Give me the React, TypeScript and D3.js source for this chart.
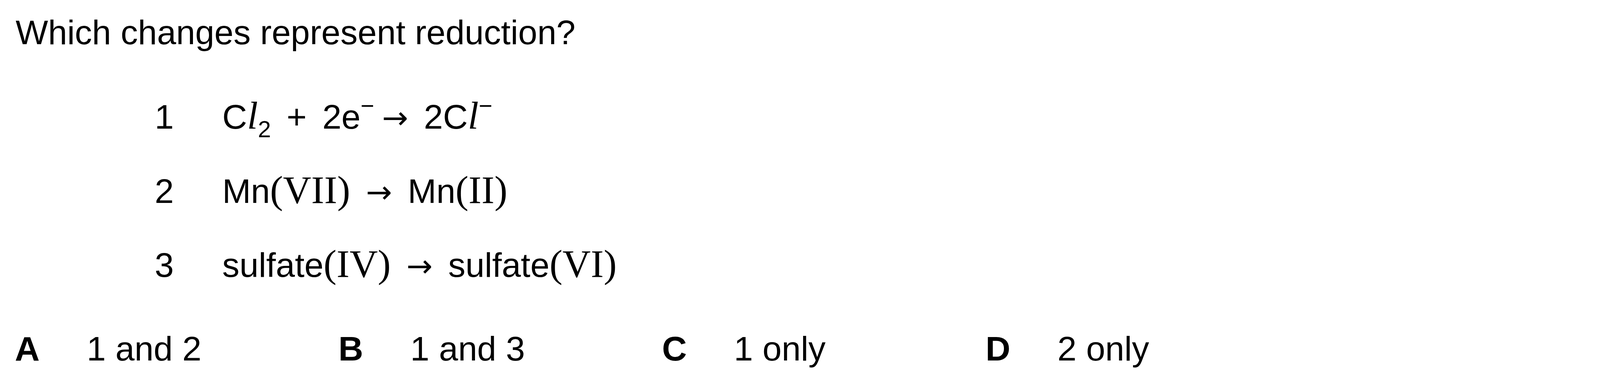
import * as d3 from "d3";

const question = "Which changes represent reduction?";
const itemNumbers = ["1", "2", "3"];
const optionLetters = ["A", "B", "C", "D"];
const optionTexts = ["1 and 2", "1 and 3", "1 only", "2 only"];

const W = 4100;
const H = 977;
const sans = "Liberation Sans, Arial, sans-serif";
const serif = "Liberation Serif, Times New Roman, serif";
const FS = 88;
const SFS = 100;

const rowY = d3.scalePoint<string>().domain(itemNumbers).range([329, 708]);
const optX = d3.scalePoint<string>().domain(optionLetters).range([38, 2523]);

const Arrow = () => (
  <tspan fontFamily="DejaVu Sans, sans-serif" fontSize={80} dx="40">→</tspan>
);

export default function App() {
  return (
    <svg width={W} height={H} style={{ position: "absolute", left: 0, top: 0, background: "#fff" }}>
      <g fontFamily={sans} fontSize={FS} fill="#000" style={{ whiteSpace: "pre" }}>
        <text x={40} y={113}>{question}</text>
        {itemNumbers.map((n) => (
          <text key={n} x={396} y={rowY(n)}>{n}</text>
        ))}
        <text x={569} y={rowY("1")}>
          C<tspan fontFamily={serif} fontStyle="italic" fontSize={SFS}>l</tspan>
          <tspan fontSize={60} dy="22">2</tspan>
          <tspan dy="-22" dx="40">+</tspan>
          <tspan dx="40">2e</tspan>
          <tspan fontSize={60} dy="-38">−</tspan>
          <tspan dy="38" fontFamily="DejaVu Sans, sans-serif" fontSize={80} dx="20">→</tspan>
          <tspan dx="40">2C</tspan>
          <tspan fontFamily={serif} fontStyle="italic" fontSize={SFS}>l</tspan>
          <tspan fontSize={60} dy="-38">−</tspan>
        </text>
        <text x={569} y={rowY("2")}>
          Mn<tspan fontFamily={serif} fontSize={SFS}>(VII)</tspan>
          <Arrow />
          <tspan dx="40">Mn</tspan>
          <tspan fontFamily={serif} fontSize={SFS}>(II)</tspan>
        </text>
        <text x={569} y={rowY("3")}>
          sulfate<tspan fontFamily={serif} fontSize={SFS}>(IV)</tspan>
          <Arrow />
          <tspan dx="40">sulfate</tspan>
          <tspan fontFamily={serif} fontSize={SFS}>(VI)</tspan>
        </text>
        {optionLetters.map((l, i) => (
          <g key={l}>
            <text x={optX(l)} y={922} fontWeight="bold">{l}</text>
            <text x={(optX(l) ?? 0) + 184} y={922}>{optionTexts[i]}</text>
          </g>
        ))}
      </g>
    </svg>
  );
}
